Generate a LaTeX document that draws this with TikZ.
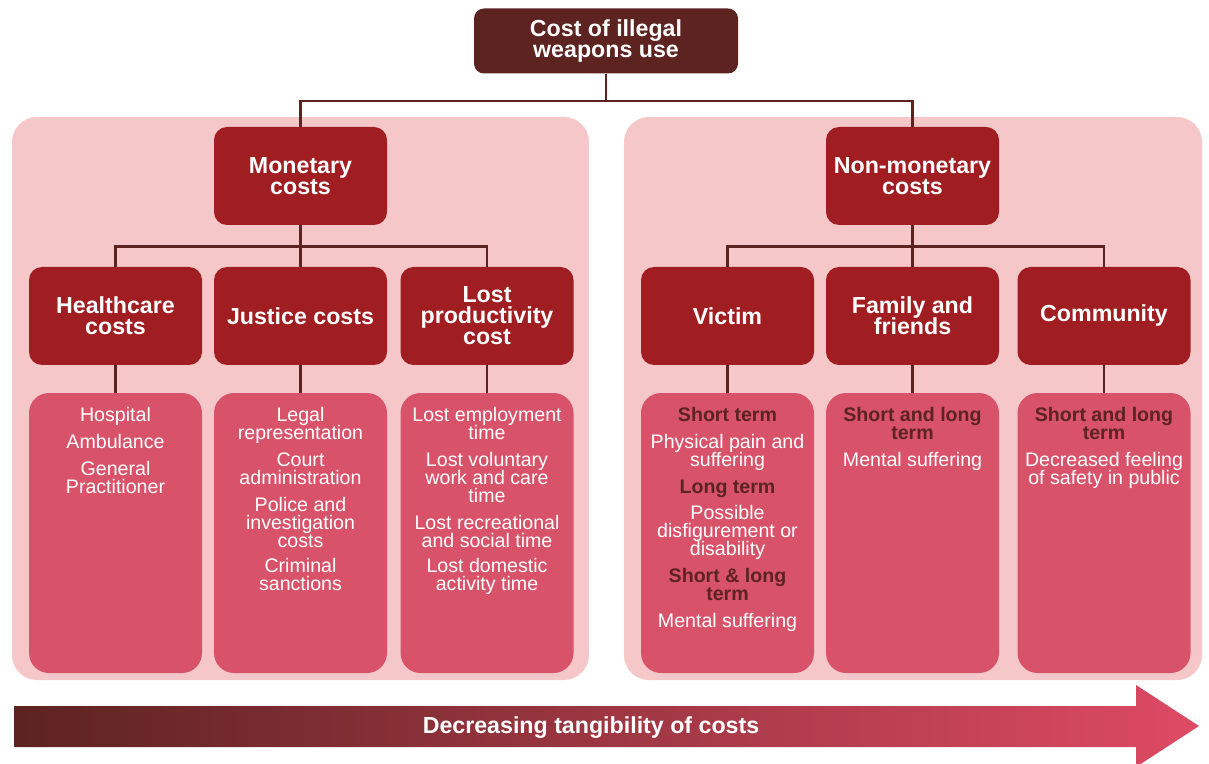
\documentclass[tikz,border=0pt]{standalone}
\usepackage{fontspec}
\setmainfont{Liberation Sans}
\usetikzlibrary{calc}
\definecolor{brownD}{HTML}{5C2320}
\definecolor{redH}{HTML}{A01D21}
\definecolor{pinkP}{HTML}{F5C7C9}
\definecolor{roseB}{HTML}{D8536A}
\definecolor{roseE}{HTML}{DE4A64}
\newcommand\hd[1]{\textbf{\textcolor{brownD}{#1}}}
\newcommand\tightlines{\lineskiplimit-20pt\relax}
\begin{document}
\begin{tikzpicture}[x=0.5pt,y=-0.5pt,
  headfont/.style={font=\fontsize{11.6}{10.5}\selectfont\tightlines\bfseries},
  topbox/.style={fill=brownD, text=white, rounded corners=5pt, minimum width=132pt,
    minimum height=32.5pt, align=center, inner sep=0pt, headfont},
  headbox/.style={fill=redH, text=white, rounded corners=6.5pt, minimum width=86.5pt,
    minimum height=49pt, align=center, inner sep=0pt, headfont},
  panelbox/.style={fill=pinkP, rounded corners=12.5pt, minimum height=281.5pt, inner sep=0pt},
  detailbox/.style={fill=roseB, rounded corners=10pt, minimum width=86.5pt,
    minimum height=140pt, inner sep=0pt},
  detailtext/.style={text=white, anchor=north, align=center, inner sep=0pt,
    font=\fontsize{9.8}{9}\selectfont\tightlines},
  conn/.style={draw=brownD, line width=1.3pt}]
\useasboundingbox (0,0) rectangle (1209,764);

% background panels
\node[panelbox, minimum width=288.5pt] (leftP) at (300.5,398.5) {};
\node[panelbox, minimum width=289pt] (rightP) at (913,398.5) {};

% root
\node[topbox] (top) at (606,41) {Cost of illegal\\weapons use};

% first level
\node[headbox] (mon) at (300.5,176) {Monetary\\costs};
\node[headbox] (non) at (912.5,176) {Non-monetary\\costs};

% second level
\node[headbox] (hc) at (115.5,316) {Healthcare\\costs};
\node[headbox] (jc) at (300.5,316) {Justice costs};
\node[headbox] (lp) at (487,316) {Lost\\productivity\\cost};
\node[headbox] (vi) at (727.5,316) {Victim};
\node[headbox] (ff) at (912.5,316) {Family and\\friends};
\node[headbox] (co) at (1104,316) {Community};

% detail boxes
\node[detailbox] (hcD) at (115.5,533) {};
\node[detailbox] (jcD) at (300.5,533) {};
\node[detailbox] (lpD) at (487,533) {};
\node[detailbox] (viD) at (727.5,533) {};
\node[detailbox] (ffD) at (912.5,533) {};
\node[detailbox] (coD) at (1104,533) {};

% detail texts
\node[detailtext] (hcT) at (115.5,407) {Hospital\\[4.5pt]Ambulance\\[4.5pt]General\\Practitioner};
\node[detailtext] (jcT) at (300.5,407) {Legal\\representation\\[4.5pt]Court\\administration\\[4.5pt]Police and\\investigation\\costs\\[3.5pt]Criminal\\sanctions};
\node[detailtext] (lpT) at (487,407) {Lost employment\\time\\[4.5pt]Lost voluntary\\work and care\\time\\[4.5pt]Lost recreational\\and social time\\[3.5pt]Lost domestic\\activity time};
\node[detailtext] (viT) at (727.5,407) {\hd{Short term}\\[4.5pt]Physical pain and\\suffering\\[4.5pt]\hd{Long term}\\[4pt]Possible\\disfigurement or\\disability\\[4.5pt]\hd{Short \& long}\\\hd{term}\\[4.5pt]Mental suffering};
\node[detailtext] (ffT) at (912.5,407) {\hd{Short and long}\\\hd{term}\\[4.5pt]Mental suffering};
\node[detailtext] (coT) at (1104,407) {\hd{Short and long}\\\hd{term}\\[4.5pt]Decreased feeling\\of safety in public};

% connectors
\draw[conn] (top.south) -- ++(0,27) -| (mon.north);
\draw[conn] (top.south) -- ++(0,27) -| (non.north);
\foreach \c in {hc,jc,lp} \draw[conn] (mon.south) -- ++(0,21) -| (\c.north);
\foreach \c in {vi,ff,co} \draw[conn] (non.south) -- ++(0,21) -| (\c.north);
\foreach \c in {hc,jc,lp,vi,ff,co} \draw[conn] (\c.south) -- (\c D.north);

% tangibility arrow
\shade[left color=brownD, right color=roseE]
  (14,706) -- (1136,706) -- (1136,685) -- (1199,726) -- (1136,767) -- (1136,747) -- (14,747) -- cycle;
\node[text=white, inner sep=0pt, headfont] (arrowT) at (591,728) {Decreasing tangibility of costs};
\end{tikzpicture}
\end{document}
